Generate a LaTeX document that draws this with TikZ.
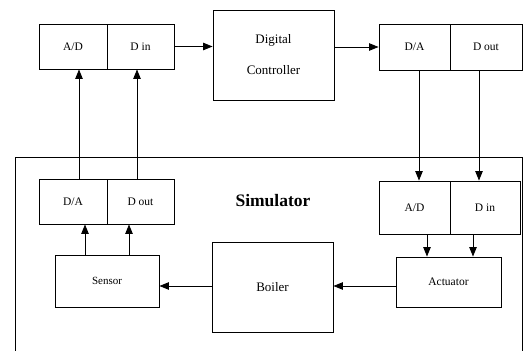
\documentclass[tikz,border=0pt]{standalone}
\usepackage{fontspec}
\setmainfont{Liberation Serif}
\usetikzlibrary{arrows.meta}
\begin{document}
\begin{tikzpicture}[x=1pt,y=-1pt,
  cell/.style={draw,line width=0.9pt,inner sep=0pt,font=\fontsize{11.5}{13}\selectfont},
  block/.style={draw,line width=0.9pt,inner sep=0pt,align=center},
  flow/.style={line width=0.9pt,-{Triangle[length=9.5pt,width=7.5pt]}}]
\path[use as bounding box] (0,0) rectangle (528,351);
% controller side
\node[cell,minimum width=68,minimum height=45] (ad1) at (73,46.5) {A/D};
\node[cell,minimum width=67,minimum height=45] (din1) at (140.5,46.5) {D in};
\node[block,minimum width=121,minimum height=90,font=\fontsize{13}{31}\selectfont] (ctrl) at (273.5,55) {Digital\\Controller};
\node[cell,minimum width=71,minimum height=46] (da1) at (414.5,47) {D/A};
\node[cell,minimum width=72,minimum height=46] (dout1) at (486,47) {D out};
% simulator frame, open at the bottom
\draw[line width=0.9pt] (15,351) -- (15,157) -- (522,157) -- (522,351);
\node[font=\fontsize{17.5}{20}\bfseries] (sim) at (273,201) {Simulator};
\node[cell,minimum width=68,minimum height=45] (da2) at (73,201.5) {D/A};
\node[cell,minimum width=67,minimum height=45] (dout2) at (140.5,201.5) {D out};
\node[block,minimum width=104,minimum height=52,font=\fontsize{11}{13}\selectfont] (sensor) at (107,281) {Sensor};
\node[block,minimum width=121,minimum height=90,font=\fontsize{13}{15}\selectfont] (boiler) at (272.5,287) {Boiler};
\node[cell,minimum width=71,minimum height=53] (ad2) at (414.5,207.5) {A/D};
\node[cell,minimum width=70,minimum height=53] (din2) at (485,207.5) {D in};
\node[block,minimum width=105,minimum height=50,font=\fontsize{11.5}{13}\selectfont] (act) at (448.5,282) {Actuator};
% connectors
\draw[flow] (din1.east) -- (din1.east -| ctrl.west);
\draw[flow] (ctrl.east |- da1.west) -- (da1.west);
\draw[flow] ([xshift=4.5]da1.south) -- ([xshift=4.5]da1.south |- ad2.north);
\draw[flow] ([xshift=-7]dout1.south) -- ([xshift=-7]dout1.south |- din2.north);
\draw[flow] ([xshift=12.5]ad2.south) -- ([xshift=12.5]ad2.south |- act.north);
\draw[flow] ([xshift=-12]din2.south) -- ([xshift=-12]din2.south |- act.north);
\draw[flow] (act.west |- 0,286) -- (boiler.east |- 0,286);
\draw[flow] (boiler.west |- 0,286) -- (sensor.east |- 0,286);
\draw[flow] ([xshift=-22]sensor.north) -- ([xshift=-22]sensor.north |- da2.south);
\draw[flow] ([xshift=22]sensor.north) -- ([xshift=22]sensor.north |- dout2.south);
\draw[flow] ([xshift=6]da2.north) -- ([xshift=6]da2.north |- ad1.south);
\draw[flow] ([xshift=-3.5]dout2.north) -- ([xshift=-3.5]dout2.north |- din1.south);
\end{tikzpicture}
\end{document}
